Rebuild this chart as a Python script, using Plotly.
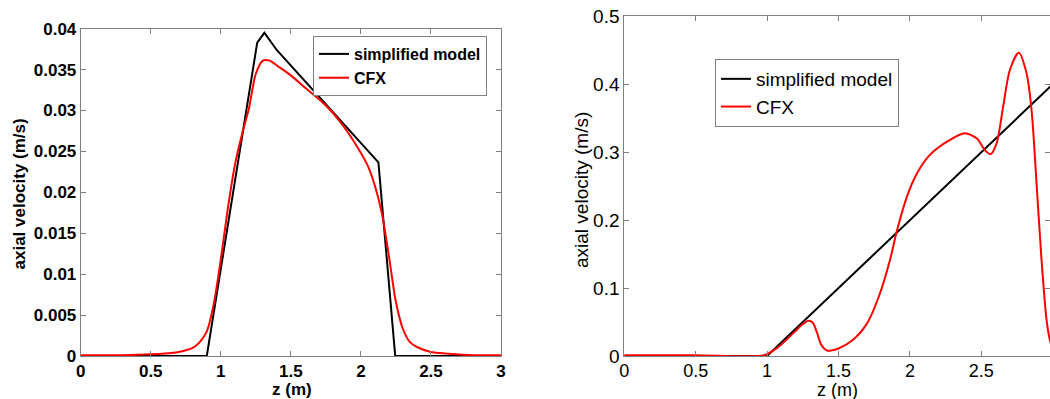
import plotly.graph_objects as go

# ---------------- data: left panel ----------------
z_model_left = [0.0, 0.9, 1.26, 1.311, 1.399, 2.125, 2.245, 3.0]
v_model_left = [0.0, 0.0, 0.0383, 0.0395, 0.0374, 0.02367, 0.0, 0.0]

z_cfx_left = [0.0, 0.3, 0.5, 0.6, 0.7, 0.75, 0.8, 0.85, 0.9, 0.95, 1.0, 1.05, 1.1,
              1.15, 1.2, 1.25, 1.3, 1.35, 1.4, 1.5, 1.6, 1.7, 1.8, 1.9, 2.0, 2.05,
              2.1, 2.15, 2.2, 2.25, 2.3, 2.35, 2.4, 2.5, 2.6, 2.8, 3.0]
v_cfx_left = [0.0001, 0.0001, 0.0002, 0.0003, 0.0005, 0.0007, 0.0010, 0.0017, 0.0030,
              0.0064, 0.0118, 0.0180, 0.0233, 0.0270, 0.0302, 0.0345, 0.0361, 0.0361,
              0.0355, 0.0343, 0.0328, 0.0314, 0.0297, 0.0275, 0.0248, 0.0232, 0.0208,
              0.0174, 0.0122, 0.0066, 0.0033, 0.0017, 0.0011, 0.0005, 0.0003, 0.0001,
              0.0001]

# ---------------- data: right panel ----------------
z_model_right = [0.0, 1.0, 3.0]
v_model_right = [0.0, 0.0, 0.4]

z_cfx_right = [0.0, 0.5, 0.98, 1.05, 1.1, 1.2, 1.25, 1.29, 1.32, 1.35, 1.38, 1.42,
               1.45, 1.5, 1.6, 1.7, 1.79, 1.86, 1.91, 1.98, 2.05, 2.14, 2.26, 2.385,
               2.47, 2.525, 2.565, 2.607, 2.653, 2.70, 2.763, 2.817, 2.852, 2.887,
               2.922, 2.957, 2.98, 3.0]
v_cfx_right = [0.001, 0.001, 0.001, 0.009, 0.017, 0.037, 0.047, 0.052, 0.049, 0.034,
               0.016, 0.008, 0.008, 0.011, 0.0235, 0.048, 0.092, 0.141, 0.185, 0.235,
               0.269, 0.296, 0.3155, 0.328, 0.320, 0.303, 0.297, 0.313, 0.367, 0.421,
               0.4465, 0.416, 0.362, 0.254, 0.141, 0.053, 0.0235, 0.010]

x_ticks = [0, 0.5, 1, 1.5, 2, 2.5, 3]
x_ticklabels = ["0", "0.5", "1", "1.5", "2", "2.5", "3"]
y_ticks_left = [0, 0.005, 0.01, 0.015, 0.02, 0.025, 0.03, 0.035, 0.04]
y_ticklabels_left = ["0", "0.005", "0.01", "0.015", "0.02", "0.025", "0.03", "0.035", "0.04"]
y_ticks_right = [0, 0.1, 0.2, 0.3, 0.4, 0.5]
y_ticklabels_right = ["0", "0.1", "0.2", "0.3", "0.4", "0.5"]

names = ["simplified model", "CFX"]
x_title = "z (m)"
y_title = "axial velocity (m/s)"

FONT = "Liberation Sans, Arial, sans-serif"
AXC = "#808080"
W, H = 1050, 399

fig = go.Figure()
fig.add_trace(go.Scatter(x=z_model_left, y=v_model_left, mode="lines", name=names[0],
                         line=dict(color="black", width=2), xaxis="x", yaxis="y",
                         legend="legend"))
fig.add_trace(go.Scatter(x=z_cfx_left, y=v_cfx_left, mode="lines", name=names[1],
                         line=dict(color="#ff0000", width=2, shape="spline", smoothing=0.8),
                         xaxis="x", yaxis="y", legend="legend"))
fig.add_trace(go.Scatter(x=z_model_right, y=v_model_right, mode="lines", name=names[0],
                         line=dict(color="black", width=2), xaxis="x2", yaxis="y2",
                         legend="legend2"))
fig.add_trace(go.Scatter(x=z_cfx_right, y=v_cfx_right, mode="lines", name=names[1],
                         line=dict(color="#ff0000", width=2, shape="spline", smoothing=0.8),
                         xaxis="x2", yaxis="y2", legend="legend2"))

def axis(dom, rng, tv, tt, fsize, weight, anchor, standoff=0):
    return dict(domain=dom, range=rng, tickvals=tv, ticktext=tt, ticks="inside",
                ticklen=5, tickcolor=AXC, showline=True, linecolor=AXC, linewidth=1,
                mirror="ticks", showgrid=False, zeroline=False, anchor=anchor,
                ticklabelstandoff=standoff,
                tickfont=dict(family=FONT, size=fsize, color="black", weight=weight),
                automargin=False)

def title_ann(text, px, py, fsize, weight, angle=0):
    return dict(text=text, x=px / W, y=1 - py / H, xref="paper", yref="paper",
                xanchor="center", yanchor="middle", showarrow=False, textangle=angle,
                font=dict(family=FONT, size=fsize, color="black", weight=weight))

fig.update_layout(
    width=W, height=H,
    margin=dict(l=0, r=0, t=0, b=0),
    paper_bgcolor="white", plot_bgcolor="white",
    xaxis=axis([0.07686, 0.47714], [0, 3], x_ticks, x_ticklabels, 17, "bold", "y"),
    yaxis=axis([0.10777, 0.92807], [0, 0.04], y_ticks_left, y_ticklabels_left, 17, "bold", "x"),
    xaxis2=axis([0.59457, 1.0], [0, 2.9811], x_ticks, x_ticklabels, 18, "normal", "y2", -2),
    yaxis2=axis([0.10777, 0.95915], [0, 0.5], y_ticks_right, y_ticklabels_right, 19, "normal", "x2"),
    annotations=[
        title_ann(x_title, 292, 389, 17, "bold"),
        title_ann(y_title, 18.5, 194, 17, "bold", -90),
        title_ann(x_title, 837.5, 390, 18, "normal"),
        title_ann(y_title, 581, 190, 19, "normal", -90),
    ],
    legend=dict(x=313 / W, y=1 - 36 / H, xanchor="left", yanchor="top",
                bgcolor="white", bordercolor=AXC, borderwidth=1,
                font=dict(family=FONT, size=16, color="black", weight="bold")),
    legend2=dict(x=715 / W, y=1 - 59 / H, xanchor="left", yanchor="top",
                 bgcolor="white", bordercolor=AXC, borderwidth=1,
                 font=dict(family=FONT, size=19, color="black")),
    showlegend=True,
)

fig.write_html("out.html")
